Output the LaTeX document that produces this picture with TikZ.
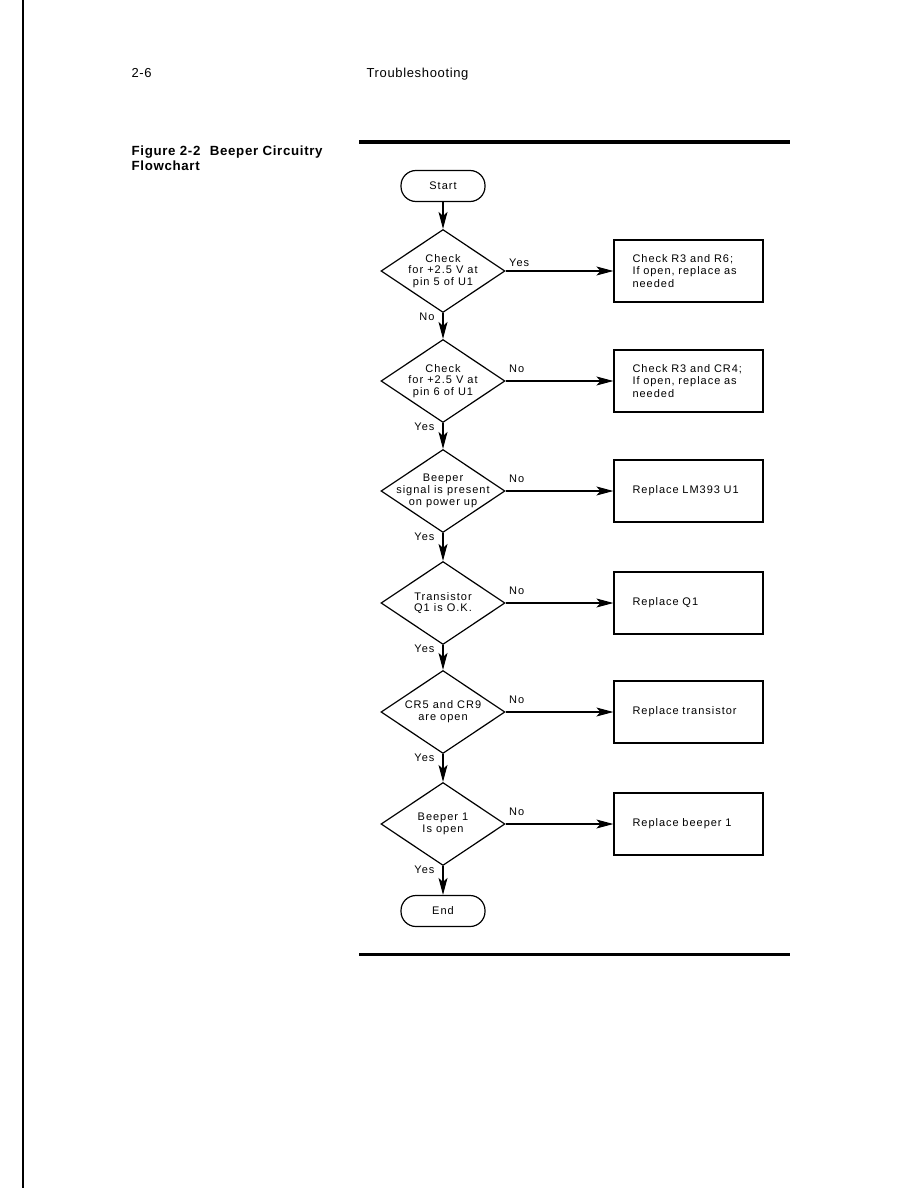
\documentclass[tikz,border=0pt]{standalone}
\usepackage{fontspec}
\setmainfont{Liberation Sans}[LetterSpace=5]
\newfontfamily\chartfont{Liberation Sans}[LetterSpace=9]
\usetikzlibrary{arrows.meta, shapes.geometric}

\begin{document}
\begin{tikzpicture}[x=1pt, y=-1pt, line width=1.2pt, >={Stealth[length=17pt, width=9pt, inset=4pt]},
    decision/.style={diamond, draw, minimum width=124pt, minimum height=83pt, inner sep=0pt,
        label={[align=center, font=\chartfont\fontsize{11}{11.8}\selectfont]center:{#1}}},
    outcome/.style={rectangle, draw, minimum width=149pt, minimum height=62pt, text width=112pt,
        inner xsep=18.5pt, align=left, font=\chartfont\fontsize{11}{12.5}\selectfont},
    terminal/.style={rectangle, draw, rounded corners=15pt, minimum width=84pt, minimum height=31pt,
        font=\chartfont\fontsize{11}{12}\selectfont},
    rlbl/.style={anchor=base west, inner sep=1pt, xshift=2pt, yshift=9pt, font=\chartfont\fontsize{11}{12}\selectfont},
    blbl/.style={anchor=base east, inner sep=1pt, xshift=-7pt, yshift=-7pt, font=\chartfont\fontsize{11}{12}\selectfont}]
    \useasboundingbox (0,0) rectangle (918,1188);
    \draw[line width=2.5pt] (23,0) -- (23,1188);

    \node[anchor=base west, inner sep=0pt, font=\fontsize{13}{15}\selectfont] (page) at (131,78) {2-6};
    \node[anchor=base west, inner sep=0pt, font=\fontsize{13}{15}\selectfont] (chapter) at (366,78) {Troubleshooting};
    \node[anchor=base west, inner sep=0pt, font=\bfseries\fontsize{13.3}{15}\selectfont] (title) at (131,155) {Figure 2-2\hspace{5pt} Beeper Circuitry};
    \node[anchor=base west, inner sep=0pt, font=\bfseries\fontsize{13.3}{15}\selectfont] (title2) at (131,170) {Flowchart};
    \draw[line width=3pt] (359,142) -- (790,142);
    \draw[line width=3pt] (359,954) -- (790,954);

    \node[terminal] (start) at (443,186) {Start};
    \node[decision={Check\\for +2.5 V at\\pin 5 of U1}] (d1) at (443,271) {};
    \node[decision={Check\\for +2.5 V at\\pin 6 of U1}] (d2) at (443,381) {};
    \node[decision={Beeper\\signal is present\\on power up}] (d3) at (443,491) {};
    \node[decision={Transistor\\Q1 is O.K.}] (d4) at (443,603) {};
    \node[decision={CR5 and CR9\\are open}] (d5) at (443,712) {};
    \node[decision={Beeper 1\\Is open}] (d6) at (443,824) {};
    \node[terminal] (end) at (443,911) {End};

    \node[outcome] (b1) at (688.5,271) {Check R3 and R6;\\If open, replace as\\needed};
    \node[outcome] (b2) at (688.5,381) {Check R3 and CR4;\\If open, replace as\\needed};
    \node[outcome] (b3) at (688.5,491) {Replace LM393 U1};
    \node[outcome] (b4) at (688.5,603) {Replace Q1};
    \node[outcome] (b5) at (688.5,712) {Replace transistor};
    \node[outcome] (b6) at (688.5,824) {Replace beeper 1};

    \draw[->] (start) -- (d1);
    \draw[->] (d1) -- node[pos=0, blbl] {No} (d2);
    \draw[->] (d2) -- node[pos=0, blbl] {Yes} (d3);
    \draw[->] (d3) -- node[pos=0, blbl] {Yes} (d4);
    \draw[->] (d4) -- node[pos=0, blbl] {Yes} (d5);
    \draw[->] (d5) -- node[pos=0, blbl] {Yes} (d6);
    \draw[->] (d6) -- node[pos=0, blbl] {Yes} (end);

    \draw[->] (d1.east) -- node[pos=0, rlbl, yshift=-4pt] {Yes} (b1.west);
    \draw[->] (d2.east) -- node[pos=0, rlbl] {No} (b2.west);
    \draw[->] (d3.east) -- node[pos=0, rlbl] {No} (b3.west);
    \draw[->] (d4.east) -- node[pos=0, rlbl] {No} (b4.west);
    \draw[->] (d5.east) -- node[pos=0, rlbl] {No} (b5.west);
    \draw[->] (d6.east) -- node[pos=0, rlbl] {No} (b6.west);
\end{tikzpicture}
\end{document}
